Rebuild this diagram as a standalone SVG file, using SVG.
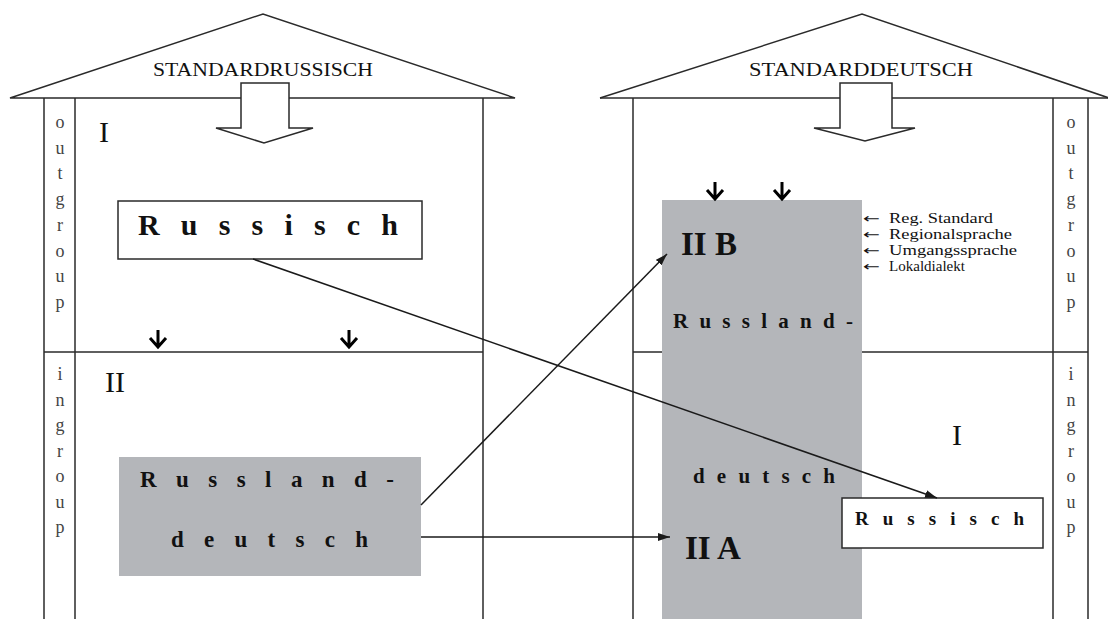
<svg xmlns="http://www.w3.org/2000/svg" width="1108" height="619" viewBox="0 0 1108 619">
  <defs>
    <marker id="head" viewBox="0 0 12 8" refX="12" refY="4" markerWidth="12" markerHeight="8" markerUnits="userSpaceOnUse" orient="auto">
      <path d="M0,0 L12,4 L0,8 Z" fill="#1a1a1a"/>
    </marker>
  </defs>
  <style>
    .ln { fill: none; stroke: #2a2a2a; stroke-width: 1.5; }
    .big { fill: #ffffff; stroke: #2a2a2a; stroke-width: 1.5; stroke-linejoin: miter; }
    .box { fill: #ffffff; stroke: #2a2a2a; stroke-width: 1.5; }
    .grey { fill: #b4b6ba; }
    .tiny { fill: none; stroke: #000; stroke-width: 3; stroke-linecap: butt; }
    .conn { fill: none; stroke: #1a1a1a; stroke-width: 1.5; marker-end: url(#head); }
    .t { font-family: "Liberation Serif", "Times New Roman", serif; fill: #111; }
    .b { font-weight: bold; }
    .head { font-size: 19px; }
    .vert { font-size: 18px; fill: #444; text-anchor: middle; }
    .roman { font-size: 30px; }
    .legend { font-size: 14px; }
    .arr { font-family: "DejaVu Sans", sans-serif; font-size: 13px; }
  </style>

  <!-- left house: Standardrussisch -->
  <g id="house-ru">
    <polygon class="ln" points="10,98 263,14 515,98"/>
    <line class="ln" x1="44" y1="98" x2="44" y2="619"/>
    <line class="ln" x1="75" y1="98" x2="75" y2="619"/>
    <line class="ln" x1="483" y1="98" x2="483" y2="619"/>
    <line class="ln" x1="44" y1="352" x2="483" y2="352"/>
    <polygon class="big" points="241,83 289,83 289,128 313,128 264,143 216,128 241,128"/>
    <text class="t head" x="153" y="76" textLength="220" lengthAdjust="spacingAndGlyphs">STANDARDRUSSISCH</text>
    <text class="t roman" x="99" y="142">I</text>
    <text class="t roman" x="105" y="392">II</text>
    <path class="tiny" d="M158,330 V347 M150,338 L158,347 L166,338"/>
    <path class="tiny" d="M349,330 V347 M341,338 L349,347 L357,338"/>
  </g>

  <g id="outgroup-left">
    <text class="t vert"><tspan x="60" y="128">o</tspan><tspan x="60" y="153.7">u</tspan><tspan x="60" y="179.4">t</tspan><tspan x="60" y="205.1">g</tspan><tspan x="60" y="230.8">r</tspan><tspan x="60" y="256.5">o</tspan><tspan x="60" y="282.2">u</tspan><tspan x="60" y="307.9">p</tspan></text>
  </g>
  <g id="ingroup-left">
    <text class="t vert"><tspan x="60" y="380">i</tspan><tspan x="60" y="405.5">n</tspan><tspan x="60" y="431">g</tspan><tspan x="60" y="456.5">r</tspan><tspan x="60" y="482">o</tspan><tspan x="60" y="507.5">u</tspan><tspan x="60" y="533">p</tspan></text>
  </g>

  <g id="russisch-left">
    <rect class="box" x="118" y="201" width="304" height="58"/>
    <text class="t b" x="138" y="235" font-size="30" textLength="260" lengthAdjust="spacing">R u s s i s c h</text>
  </g>

  <g id="russlanddeutsch-left">
    <rect class="grey" x="119" y="457" width="302" height="119"/>
    <text class="t b" x="140" y="487" font-size="23" textLength="254" lengthAdjust="spacing">R u s s l a n d -</text>
    <text class="t b" x="171" y="547" font-size="23" textLength="197" lengthAdjust="spacing">d e u t s c h</text>
  </g>

  <!-- right house: Standarddeutsch -->
  <g id="house-de">
    <polyline class="ln" points="600,98 862,14 1112,99"/>
    <line class="ln" x1="600" y1="98" x2="1108" y2="98"/>
    <line class="ln" x1="633" y1="98" x2="633" y2="619"/>
    <line class="ln" x1="1053" y1="98" x2="1053" y2="619"/>
    <line class="ln" x1="1088" y1="98" x2="1088" y2="619"/>
    <line class="ln" x1="633" y1="352" x2="1088" y2="352"/>
    <polygon class="big" points="840,83 892,83 892,128 915,128 865,141 814,128 840,128"/>
    <text class="t head" x="749" y="76" textLength="224" lengthAdjust="spacingAndGlyphs">STANDARDDEUTSCH</text>
    <text class="t roman" x="952" y="445">I</text>
  </g>

  <g id="outgroup-right">
    <text class="t vert"><tspan x="1071" y="128">o</tspan><tspan x="1071" y="153.7">u</tspan><tspan x="1071" y="179.4">t</tspan><tspan x="1071" y="205.1">g</tspan><tspan x="1071" y="230.8">r</tspan><tspan x="1071" y="256.5">o</tspan><tspan x="1071" y="282.2">u</tspan><tspan x="1071" y="307.9">p</tspan></text>
  </g>
  <g id="ingroup-right">
    <text class="t vert"><tspan x="1071" y="380">i</tspan><tspan x="1071" y="405.5">n</tspan><tspan x="1071" y="431">g</tspan><tspan x="1071" y="456.5">r</tspan><tspan x="1071" y="482">o</tspan><tspan x="1071" y="507.5">u</tspan><tspan x="1071" y="533">p</tspan></text>
  </g>

  <g id="russlanddeutsch-right">
    <rect class="grey" x="662" y="200" width="200" height="419"/>
    <path class="tiny" d="M715,182 V199 M707,190 L715,199 L723,190"/>
    <path class="tiny" d="M782,182 V199 M774,190 L782,199 L790,190"/>
    <text class="t b" x="681" y="255" font-size="33">II B</text>
    <text class="t b" x="673" y="328" font-size="21" textLength="180" lengthAdjust="spacing">R u s s l a n d -</text>
    <text class="t b" x="693" y="483" font-size="21" textLength="142" lengthAdjust="spacing">d e u t s c h</text>
    <text class="t b" x="685" y="559" font-size="33">II A</text>
  </g>

  <!-- variety ladder, arrow glyph set in DejaVu and widened -->
  <g id="varieties">
    <text class="t legend" x="863" y="223"><tspan class="arr" textLength="17" lengthAdjust="spacingAndGlyphs">←</tspan> <tspan x="889" textLength="104" lengthAdjust="spacingAndGlyphs">Reg. Standard</tspan></text>
    <text class="t legend" x="863" y="239"><tspan class="arr" textLength="17" lengthAdjust="spacingAndGlyphs">←</tspan> <tspan x="889" textLength="123" lengthAdjust="spacingAndGlyphs">Regionalsprache</tspan></text>
    <text class="t legend" x="863" y="255"><tspan class="arr" textLength="17" lengthAdjust="spacingAndGlyphs">←</tspan> <tspan x="889" textLength="128" lengthAdjust="spacingAndGlyphs">Umgangssprache</tspan></text>
    <text class="t legend" x="863" y="271"><tspan class="arr" textLength="17" lengthAdjust="spacingAndGlyphs">←</tspan> <tspan x="889" textLength="76" lengthAdjust="spacingAndGlyphs">Lokaldialekt</tspan></text>
  </g>

  <g id="russisch-right">
    <rect class="box" x="842" y="498" width="201" height="50"/>
    <text class="t b" x="855" y="525" font-size="19" textLength="169" lengthAdjust="spacing">R u s s i s c h</text>
  </g>

  <g id="connectors">
    <line class="conn" x1="421" y1="505" x2="667" y2="254"/>
    <line class="conn" x1="421" y1="537" x2="670" y2="537"/>
    <line class="conn" x1="253" y1="259" x2="937" y2="498"/>
  </g>
</svg>
